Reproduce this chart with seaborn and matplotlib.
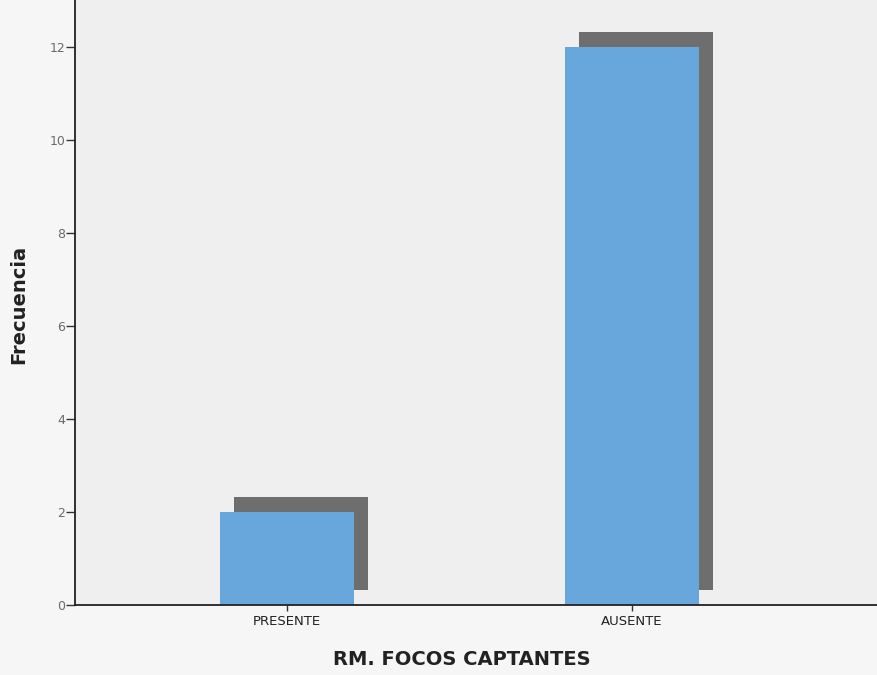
import matplotlib
matplotlib.use("Agg")
import matplotlib.pyplot as plt
import matplotlib.transforms as mtransforms
import seaborn as sns
import pandas as pd

categories = ["PRESENTE", "AUSENTE"]
frecuencia = [2, 12]
y_ticks = [0, 2, 4, 6, 8, 10, 12]

df = pd.DataFrame({"categoria": categories, "frecuencia": frecuencia})

sns.set_theme(style="white")
plt.rcParams["font.family"] = ["DejaVu Sans"]

fig = plt.figure(figsize=(8.78, 6.75), dpi=100, facecolor="#f6f6f7")
ax = fig.add_axes([0.0854, 0.1037, 0.9146, 0.8963])
ax.set_facecolor("#efefef")

# drop shadow behind each bar
sns.barplot(data=df, x="categoria", y="frecuencia", color="#6e6e6e",
            width=0.39, saturation=1, ax=ax, zorder=1)
shadow_patches = list(ax.patches)
offset = mtransforms.ScaledTranslation(14 / 100, 15 / 100, fig.dpi_scale_trans)
for p in shadow_patches:
    p.set_transform(ax.transData + offset)
    p.set_linewidth(0)

# main bars
sns.barplot(data=df, x="categoria", y="frecuencia", color="#68a7dc",
            width=0.39, saturation=1, ax=ax, zorder=2)
for p in ax.patches[len(shadow_patches):]:
    p.set_linewidth(0)

ax.set_xlim(-0.614, 1.713)
ax.set_ylim(0, 13.0)
ax.set_yticks(y_ticks)
ax.set_yticklabels([str(v) for v in y_ticks], fontsize=9, color="#6a6a6a")
ax.set_xticklabels(categories, fontsize=9.5, color="#222222")

ax.tick_params(axis="y", direction="out", length=6.5, width=1, color="#333333",
               left=True, pad=0.5)
ax.tick_params(axis="x", direction="out", length=4, width=1, color="#333333",
               bottom=True, pad=3)

for side in ["top", "right"]:
    ax.spines[side].set_visible(False)
for side in ["left", "bottom"]:
    ax.spines[side].set_color("#222222")
    ax.spines[side].set_linewidth(1.3)

ax.set_ylabel("Frecuencia", fontsize=14, fontweight="bold", color="#222222")
ax.set_xlabel("RM. FOCOS CAPTANTES", fontsize=14, fontweight="bold",
              color="#222222")
ax.yaxis.set_label_coords(-0.058, 0.496)
ax.xaxis.set_label_coords(0.482, -0.074)

fig.savefig("out.png", dpi=100, facecolor=fig.get_facecolor())
